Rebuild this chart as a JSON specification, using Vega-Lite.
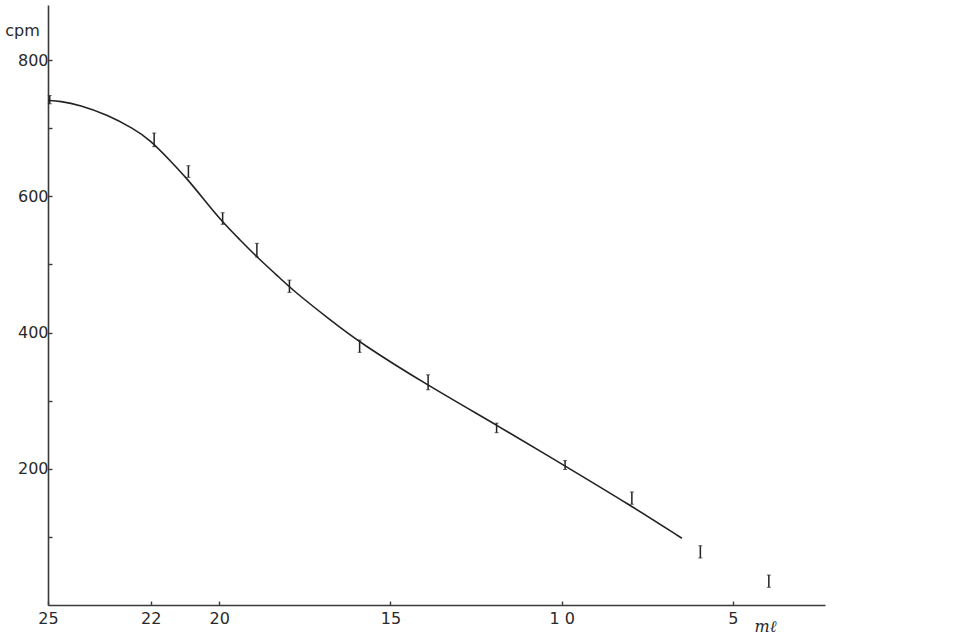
{
  "$schema": "https://vega.github.io/schema/vega-lite/v6.json",
  "autosize": "none",
  "width": 777,
  "height": 600,
  "padding": {"left": 48, "top": 5, "right": 154, "bottom": 35},
  "background": "white",
  "config": {
    "view": {"stroke": null},
    "axis": {
      "grid": false,
      "domainColor": "#3a3a3a",
      "domainWidth": 1.6,
      "tickColor": "#3a3a3a",
      "tickWidth": 1.4,
      "tickSize": -4,
      "labelFont": "DejaVu Sans",
      "labelFontSize": 16,
      "labelColor": "#2a2a2a",
      "labelFlush": false,
      "titleFont": "DejaVu Sans",
      "titleFontWeight": "normal",
      "titleColor": "#2a2a2a"
    }
  },
  "datasets": {
    "curve": [
      {"ml": 25.0, "cpm": 741},
      {"ml": 24.65, "cpm": 740},
      {"ml": 24.07, "cpm": 734},
      {"ml": 23.28, "cpm": 720},
      {"ml": 22.52, "cpm": 700},
      {"ml": 22.02, "cpm": 683},
      {"ml": 21.44, "cpm": 653},
      {"ml": 20.94, "cpm": 626},
      {"ml": 20.47, "cpm": 597},
      {"ml": 19.92, "cpm": 563},
      {"ml": 19.39, "cpm": 536},
      {"ml": 18.9, "cpm": 511},
      {"ml": 18.31, "cpm": 484},
      {"ml": 17.85, "cpm": 462},
      {"ml": 16.77, "cpm": 419},
      {"ml": 15.89, "cpm": 385},
      {"ml": 13.93, "cpm": 323},
      {"ml": 11.89, "cpm": 264},
      {"ml": 9.96, "cpm": 206},
      {"ml": 8.01, "cpm": 147},
      {"ml": 6.49, "cpm": 98}
    ],
    "points": [
      {"ml": 24.95, "lo": 736, "hi": 748},
      {"ml": 21.9, "lo": 673, "hi": 693},
      {"ml": 20.9, "lo": 628, "hi": 645},
      {"ml": 19.9, "lo": 559, "hi": 576},
      {"ml": 18.9, "lo": 511, "hi": 531},
      {"ml": 17.95, "lo": 459, "hi": 477},
      {"ml": 15.9, "lo": 371, "hi": 389},
      {"ml": 13.9, "lo": 316, "hi": 338},
      {"ml": 11.9, "lo": 253, "hi": 267},
      {"ml": 9.9, "lo": 199, "hi": 212},
      {"ml": 7.95, "lo": 148, "hi": 166},
      {"ml": 5.95, "lo": 69, "hi": 87},
      {"ml": 3.95, "lo": 26, "hi": 44}
    ]
  },
  "layer": [
    {
      "data": {"name": "curve"},
      "mark": {"type": "line", "interpolate": "basis", "color": "#222222", "strokeWidth": 1.6},
      "encoding": {
        "x": {
          "field": "ml", "type": "quantitative",
          "scale": {"domain": [25, 2.31], "nice": false, "zero": false},
          "axis": {
            "values": [25, 22, 20, 15, 10, 5],
            "labelExpr": "datum.value == 10 ? '1 0' : datum.label",
            "labelPadding": 9,
            "title": "mℓ",
            "titleFont": "DejaVu Serif",
            "titleFontStyle": "italic",
            "titleFontSize": 16,
            "titleAnchor": "start",
            "titleAlign": "center",
            "titleBaseline": "middle",
            "titleX": 717,
            "titleY": 21
          }
        },
        "y": {
          "field": "cpm", "type": "quantitative",
          "scale": {"domain": [0, 881], "nice": false},
          "axis": {
            "values": [100, 200, 300, 400, 500, 600, 700, 800],
            "labelExpr": "datum.value % 200 == 0 ? datum.label : ''",
            "labelPadding": 4,
            "title": "cpm",
            "titleAngle": 0,
            "titleFontSize": 16,
            "titleAlign": "center",
            "titleBaseline": "middle",
            "titleX": -26,
            "titleY": 25
          }
        }
      }
    },
    {
      "data": {"name": "points"},
      "mark": {"type": "rule", "color": "#222222", "strokeWidth": 1.5},
      "encoding": {
        "x": {"field": "ml", "type": "quantitative"},
        "y": {"field": "lo", "type": "quantitative"},
        "y2": {"field": "hi"}
      }
    },
    {
      "data": {"name": "points"},
      "mark": {"type": "tick", "orient": "horizontal", "color": "#222222", "size": 4, "thickness": 1},
      "encoding": {
        "x": {"field": "ml", "type": "quantitative"},
        "y": {"field": "lo", "type": "quantitative"}
      }
    },
    {
      "data": {"name": "points"},
      "mark": {"type": "tick", "orient": "horizontal", "color": "#222222", "size": 4, "thickness": 1},
      "encoding": {
        "x": {"field": "ml", "type": "quantitative"},
        "y": {"field": "hi", "type": "quantitative"}
      }
    }
  ]
}
